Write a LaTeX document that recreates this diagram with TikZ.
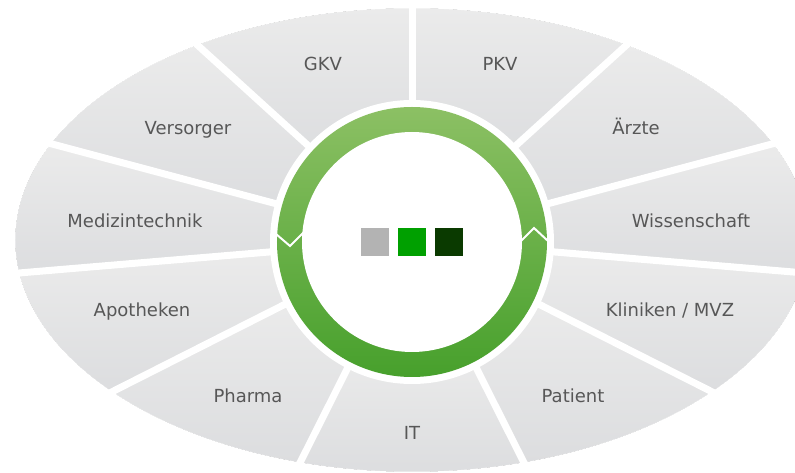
\documentclass[tikz,border=0pt]{standalone}
\usepackage{fontspec}
\setmainfont{DejaVu Sans}
\usetikzlibrary{calc}
\definecolor{segtop}{HTML}{EBEBEB}
\definecolor{segbot}{HTML}{DCDDDF}
\definecolor{ringtop}{HTML}{8CC064}
\definecolor{ringbot}{HTML}{47A02C}
\definecolor{labelgray}{HTML}{575757}
\definecolor{sqgray}{HTML}{B3B3B3}
\definecolor{sqgreen}{HTML}{00A000}
\definecolor{sqdark}{HTML}{0A3A00}
\begin{document}
\begin{tikzpicture}[x=1pt,y=1pt,
  segment/.style={top color=segtop, bottom color=segbot, draw=none},
  separator/.style={draw=white, line width=7pt},
  seglabel/.style={text=labelgray, font=\fontsize{18}{21}\selectfont, anchor=base, inner sep=0pt},
  chevron/.style={draw=white, line width=2pt, line join=miter},
  square/.style={minimum size=28pt, inner sep=0pt, draw=none}]
\useasboundingbox (-412,-233) rectangle (383,240);
\clip (-412,-233) rectangle (383,240);
% segments of the ellipse
\foreach \n in {0,...,10}{
  \pgfmathsetmacro{\ta}{90+\n*360/11}
  \pgfmathsetmacro{\tb}{90+(\n+1)*360/11}
  \fill[segment] ($(0,0)!125pt!(\ta:397pt and 232pt)$) -- (\ta:397pt and 232pt)
     arc[start angle=\ta, end angle=\tb, x radius=397pt, y radius=232pt]
     -- ($(0,0)!125pt!(\tb:397pt and 232pt)$) -- cycle;
}
% clean outer edge
\draw[white, line width=1.5pt] (0,0) ellipse [x radius=397.5pt, y radius=232.5pt];
% separators
\foreach \n in {0,...,10}{
  \pgfmathsetmacro{\ta}{90+\n*360/11}
  \draw[separator] (0,0) -- (\ta:437pt and 255.2pt);
}
% central ring
\fill[white] (0,-2) circle (142pt);
\shade[top color=ringtop, bottom color=ringbot] (0,-2) circle (135pt);
\fill[white] (0,-2) circle (110pt);
% chevrons
\coordinate (l1) at (-136,6);
\coordinate (l2) at (-122,-6);
\coordinate (l3) at (-108,8);
\coordinate (r1) at (109,-1);
\coordinate (r2) at (122,12);
\coordinate (r3) at (136,-1);
\draw[chevron] (l1) -- (l2) -- (l3);
\draw[chevron] (r1) -- (r2) -- (r3);
% squares
\node[square, fill=sqgray] (sq1) at (-37,-2) {};
\node[square, fill=sqgreen] (sq2) at (0,-2) {};
\node[square, fill=sqdark] (sq3) at (37,-2) {};
% labels
\node[seglabel] (gkv) at (-89,169.5) {GKV};
\node[seglabel] (pkv) at (88,169.5) {PKV};
\node[seglabel] (vers) at (-224,105) {Versorger};
\node[seglabel] (aerzte) at (224,105) {Ärzte};
\node[seglabel] (medtech) at (-277,12.5) {Medizintechnik};
\node[seglabel] (wiss) at (279,12.5) {Wissenschaft};
\node[seglabel] (apo) at (-270,-76.5) {Apotheken};
\node[seglabel] (klin) at (258,-76.5) {Kliniken / MVZ};
\node[seglabel] (pharma) at (-164,-163) {Pharma};
\node[seglabel] (patient) at (161,-163) {Patient};
\node[seglabel] (it) at (0,-200) {IT};
\end{tikzpicture}
\end{document}
